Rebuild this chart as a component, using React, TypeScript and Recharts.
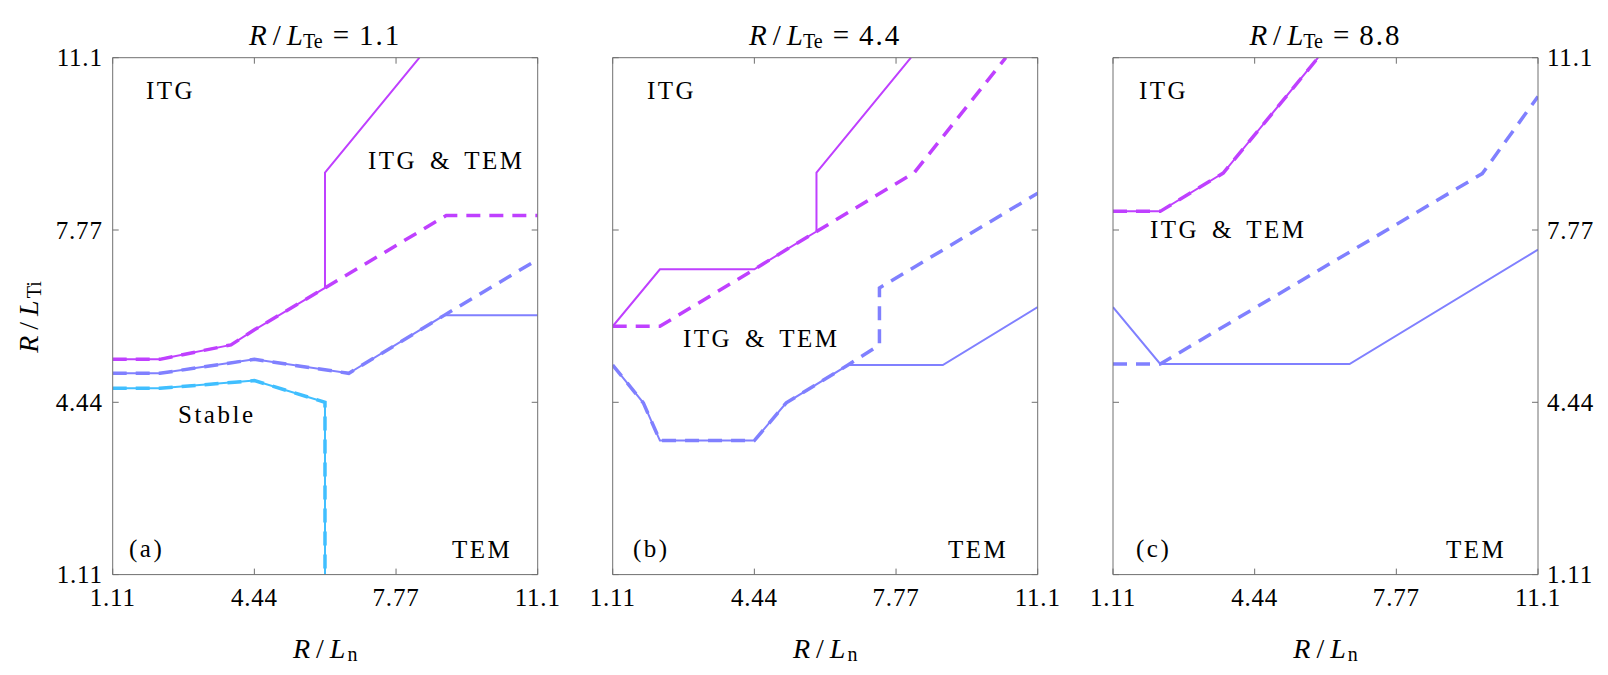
import React from "react";
import { LineChart, Line, XAxis, YAxis } from "recharts";

type Pt = { x: number; y: number };
const P = (arr: number[][]): Pt[] => arr.map(([x, y]) => ({ x, y }));

// Axis ticks
const tickValues = [1.11, 4.44, 7.77, 11.1];
const tickLabels = ["1.11", "4.44", "7.77", "11.1"];
const domain: [number, number] = [1.11, 11.1];

// Panel titles / labels
const teValues = ["1.1", "4.4", "8.8"];
const panelTags = ["(a)", "(b)", "(c)"];

// Panel (a): R/L_Te = 1.1
const magentaSolidA = P([[1.11, 5.27], [2.22, 5.27], [3.89, 5.55], [4.44, 5.84], [6.1, 6.65], [6.1, 8.88], [8.32, 11.1]]);
const magentaDashedA = P([[1.11, 5.27], [2.22, 5.27], [3.89, 5.55], [4.44, 5.84], [6.1, 6.65], [8.95, 8.05], [11.1, 8.05]]);
const blueSolidA = P([[1.11, 5.0], [2.22, 5.0], [4.44, 5.27], [6.66, 5.0], [8.9, 6.12], [11.1, 6.12]]);
const blueDashedA = P([[1.11, 5.0], [2.22, 5.0], [4.44, 5.27], [6.66, 5.0], [8.9, 6.12], [11.1, 7.2]]);
const cyanSolidA = P([[1.11, 4.71], [2.22, 4.71], [4.44, 4.86], [6.1, 4.44], [6.1, 1.11]]);
const cyanDashedA = P([[1.11, 4.71], [2.22, 4.71], [4.44, 4.86], [6.1, 4.44], [6.1, 1.11]]);

// Panel (b): R/L_Te = 4.4
const magentaSolidB = P([[1.11, 5.91], [2.22, 7.01], [4.44, 7.01], [5.13, 7.36], [5.9, 7.74], [5.9, 8.88], [8.12, 11.1]]);
const magentaDashedB = P([[1.11, 5.91], [2.22, 5.91], [4.44, 7.01], [5.13, 7.36], [5.9, 7.74], [8.2, 8.88], [10.35, 11.1]]);
const blueSolidB = P([[1.11, 5.16], [1.83, 4.43], [2.22, 3.7], [4.44, 3.7], [5.19, 4.43], [6.64, 5.16], [8.87, 5.16], [11.1, 6.28]]);
const blueDashedB = P([[1.11, 5.16], [1.83, 4.43], [2.22, 3.7], [4.44, 3.7], [5.19, 4.43], [6.64, 5.16], [7.38, 5.55], [7.38, 6.65], [11.1, 8.48]]);

// Panel (c): R/L_Te = 8.8
const magentaSolidC = P([[1.11, 8.13], [2.22, 8.13], [3.7, 8.87], [5.93, 11.1]]);
const magentaDashedC = P([[1.11, 8.13], [2.22, 8.13], [3.7, 8.87], [5.93, 11.1]]);
const blueSolidC = P([[1.11, 6.28], [2.22, 5.18], [6.67, 5.18], [11.1, 7.39]]);
const blueDashedC = P([[1.11, 5.18], [2.22, 5.18], [9.79, 8.86], [11.1, 10.35]]);

const MAGENTA = "#bf40ff";
const BLUE = "#8080ff";
const CYAN = "#40bfff";
const FRAME = "#707070";
const FONT = "'Liberation Serif', 'Times New Roman', serif";
const TICK_FS = 25;
const LABEL_FS = 25;
const TICK_LEN = 6;

const labelOf = (v: number) => {
  const i = tickValues.indexOf(v);
  return i >= 0 ? tickLabels[i] : String(v);
};

const makeTick = (side: "bottom" | "top" | "left" | "right", showLabel: boolean) => (props: any) => {
  const { x, y, payload } = props;
  let line;
  let label = null;
  if (side === "bottom") {
    line = <line x1={x} y1={y} x2={x} y2={y - TICK_LEN} stroke={FRAME} strokeWidth={1} />;
    if (showLabel)
      label = (
        <text x={x} y={y + 23} textAnchor="middle" dominantBaseline="central" fontFamily={FONT} fontSize={TICK_FS} letterSpacing={0.8} fill="#000">
          {labelOf(payload.value)}
        </text>
      );
  } else if (side === "top") {
    line = <line x1={x} y1={y} x2={x} y2={y + TICK_LEN} stroke={FRAME} strokeWidth={1} />;
  } else if (side === "left") {
    line = <line x1={x} y1={y} x2={x + TICK_LEN} y2={y} stroke={FRAME} strokeWidth={1} />;
    if (showLabel)
      label = (
        <text x={x - 10} y={y} textAnchor="end" dominantBaseline="central" fontFamily={FONT} fontSize={TICK_FS} letterSpacing={0.8} fill="#000">
          {labelOf(payload.value)}
        </text>
      );
  } else {
    line = <line x1={x} y1={y} x2={x - TICK_LEN} y2={y} stroke={FRAME} strokeWidth={1} />;
    if (showLabel)
      label = (
        <text x={x + 9} y={y} textAnchor="start" dominantBaseline="central" fontFamily={FONT} fontSize={TICK_FS} letterSpacing={0.8} fill="#000">
          {labelOf(payload.value)}
        </text>
      );
  }
  return (
    <g>
      {line}
      {label}
    </g>
  );
};

type Series = { data: Pt[]; color: string; dashed: boolean };

const W = 1608;
const H = 675;
const PLOT_W = 425;
const PLOT_TOP = 57.7;
const PLOT_BOTTOM = 574.6;
const AX = 1; // thin axis band so the axes still render

const panels: { left: number; series: Series[]; leftLabels: boolean; rightLabels: boolean }[] = [
  {
    left: 112.7,
    leftLabels: true,
    rightLabels: false,
    series: [
      { data: magentaSolidA, color: MAGENTA, dashed: false },
      { data: blueSolidA, color: BLUE, dashed: false },
      { data: cyanSolidA, color: CYAN, dashed: false },
      { data: magentaDashedA, color: MAGENTA, dashed: true },
      { data: blueDashedA, color: BLUE, dashed: true },
      { data: cyanDashedA, color: CYAN, dashed: true },
    ],
  },
  {
    left: 612.7,
    leftLabels: false,
    rightLabels: false,
    series: [
      { data: magentaSolidB, color: MAGENTA, dashed: false },
      { data: blueSolidB, color: BLUE, dashed: false },
      { data: magentaDashedB, color: MAGENTA, dashed: true },
      { data: blueDashedB, color: BLUE, dashed: true },
    ],
  },
  {
    left: 1113,
    leftLabels: false,
    rightLabels: true,
    series: [
      { data: magentaSolidC, color: MAGENTA, dashed: false },
      { data: blueSolidC, color: BLUE, dashed: false },
      { data: magentaDashedC, color: MAGENTA, dashed: true },
      { data: blueDashedC, color: BLUE, dashed: true },
    ],
  },
];

const axisCommon = {
  type: "number" as const,
  domain,
  ticks: tickValues,
  interval: 0 as const,
  allowDataOverflow: true,
  axisLine: { stroke: FRAME, strokeWidth: 1 },
  tickLine: false,
  tickSize: 0,
  tickMargin: 0,
};

const Panel = ({ p }: { p: (typeof panels)[number] }) => (
  <div style={{ position: "absolute", left: 0, top: 0 }}>
    <LineChart
      width={W}
      height={H}
      margin={{
        left: p.left - AX,
        right: W - p.left - PLOT_W - AX,
        top: PLOT_TOP - AX,
        bottom: H - PLOT_BOTTOM - AX,
      }}
    >
      <XAxis xAxisId="b" dataKey="x" height={AX} orientation="bottom" {...axisCommon} tick={makeTick("bottom", true)} />
      <XAxis xAxisId="t" dataKey="x" height={AX} orientation="top" {...axisCommon} tick={makeTick("top", false)} />
      <YAxis yAxisId="l" width={AX} orientation="left" {...axisCommon} tick={makeTick("left", p.leftLabels)} />
      <YAxis yAxisId="r" width={AX} orientation="right" {...axisCommon} tick={makeTick("right", p.rightLabels)} />
      {p.series.map((s, i) => (
        <Line
          key={i}
          xAxisId="b"
          yAxisId="l"
          data={s.data}
          dataKey="y"
          type="linear"
          stroke={s.color}
          strokeWidth={s.dashed ? 3.5 : 2}
          strokeDasharray={s.dashed ? "14 9" : undefined}
          dot={false}
          activeDot={false}
          isAnimationActive={false}
        />
      ))}
    </LineChart>
  </div>
);

const textStyle = { fontFamily: FONT, fill: "#000" } as const;

const MathLabel = ({ x, y, sub, rotate }: { x: number; y: number; sub: string; rotate?: boolean }) => (
  <text
    x={x}
    y={y}
    textAnchor="middle"
    dominantBaseline="central"
    fontSize={28}
    transform={rotate ? `rotate(-90 ${x} ${y})` : undefined}
    {...textStyle}
  >
    <tspan fontStyle="italic">R</tspan>
    <tspan dx={6}>/</tspan>
    <tspan dx={6} fontStyle="italic">L</tspan>
    <tspan dx={2} fontSize={20} dy={6}>{sub}</tspan>
  </text>
);

export default function App() {
  const regionLabels = [
    { t: "ITG", x: 146, y: 90 },
    { t: "ITG & TEM", x: 368, y: 160 },
    { t: "Stable", x: 178, y: 414 },
    { t: "TEM", x: 452, y: 549 },
    { t: "ITG", x: 647, y: 90 },
    { t: "ITG & TEM", x: 683, y: 338 },
    { t: "TEM", x: 948, y: 549 },
    { t: "ITG", x: 1139, y: 90 },
    { t: "ITG & TEM", x: 1150, y: 229 },
    { t: "TEM", x: 1446, y: 549 },
  ];
  const tagX = [129, 633, 1136];
  return (
    <div style={{ position: "absolute", left: 0, top: 0, width: W, height: H, background: "#fff" }}>
      {panels.map((p, i) => (
        <Panel key={i} p={p} />
      ))}
      <svg width={W} height={H} style={{ position: "absolute", left: 0, top: 0, pointerEvents: "none" }}>
        {panels.map((p, i) => (
          <g key={i}>
            <text x={p.left + PLOT_W / 2} y={35} textAnchor="middle" dominantBaseline="central" fontSize={29} {...textStyle}>
              <tspan fontStyle="italic">R</tspan>
              <tspan dx={6}>/</tspan>
              <tspan dx={6} fontStyle="italic">L</tspan>
              <tspan fontSize={20} dy={6}>Te</tspan>
              <tspan dy={-6} dx={10}>=</tspan>
              <tspan dx={10} letterSpacing={2}>{teValues[i]}</tspan>
            </text>
            <MathLabel x={p.left + PLOT_W / 2} y={648} sub="n" />
            <text x={tagX[i]} y={548} dominantBaseline="central" fontSize={LABEL_FS} letterSpacing={2.5} {...textStyle}>
              {panelTags[i]}
            </text>
          </g>
        ))}
        {regionLabels.map((r, i) => (
          <text
            key={i}
            x={r.x}
            y={r.y}
            dominantBaseline="central"
            fontSize={LABEL_FS}
            letterSpacing={2.5}
            wordSpacing={4}
            {...textStyle}
          >
            {r.t}
          </text>
        ))}
        <MathLabel x={28} y={317} sub="Ti" rotate />
      </svg>
    </div>
  );
}
